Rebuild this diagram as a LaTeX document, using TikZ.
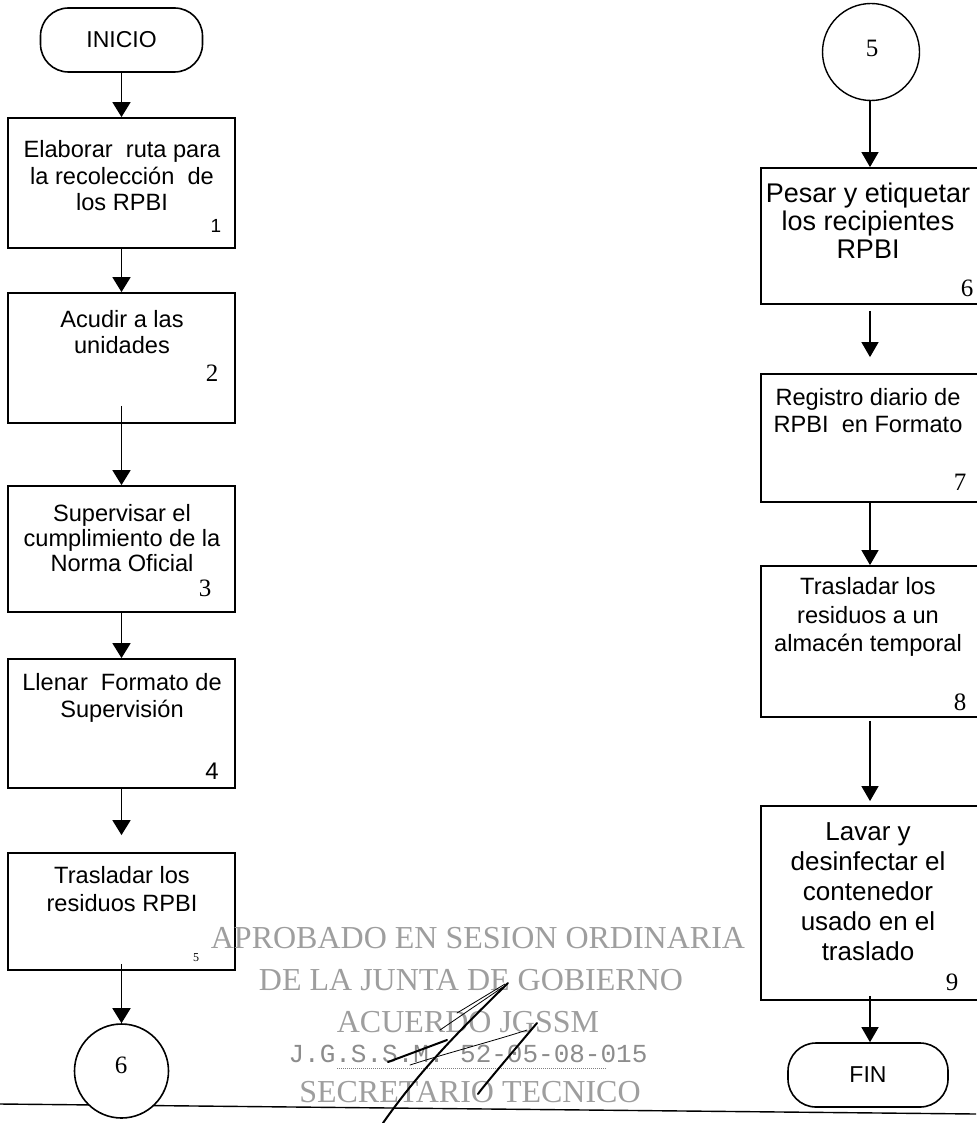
\documentclass[tikz,border=0pt]{standalone}
\usepackage{fontspec}
\setmainfont{Liberation Sans}
\newfontfamily\numfont{Liberation Serif}
\newfontfamily\stampserif{Liberation Serif}
\newfontfamily\stampmono{Liberation Mono}
\usetikzlibrary{arrows.meta}

\begin{document}
\begin{tikzpicture}[x=1pt,y=-1pt,
  box/.style={draw, line width=1.8pt, inner sep=0pt},
  term/.style={draw, line width=1.6pt, rounded corners=28pt, inner sep=0pt,
    font=\fontsize{23}{23}\selectfont},
  conn/.style={draw, circle, line width=1.6pt, inner sep=0pt, fill=white},
  txtL/.style={align=center, inner sep=0pt, font=\fontsize{23.6}{26.5}\selectfont},
  numS/.style={inner sep=0pt, font=\numfont\fontsize{25}{25}\selectfont},
  numSans/.style={inner sep=0pt, font=\fontsize{24}{24}\selectfont},
  arrL/.style={line width=1.8pt, -{Triangle[width=18pt,length=15pt]}},
  arrR/.style={line width=1.3pt, -{Triangle[width=17pt,length=15pt]}},
  stamp/.style={inner sep=0pt, text=black!38, font=\stampserif\fontsize{32}{32}\selectfont},
  stampnum/.style={inner sep=0pt, text=black!45, font=\stampmono\fontsize{26}{26}\selectfont},
  sig/.style={line width=2pt, line cap=round},
  sigthin/.style={line width=0.8pt, line cap=round}
]
\useasboundingbox (0,0) rectangle (976,1123);

% baseline of the page
\coordinate (baseL) at (0,1104);
\coordinate (baseR) at (976,1114);
\draw[line width=1.4pt] (baseL) -- (baseR);

% ---------- left column ----------
\node[term, minimum width=162pt, minimum height=64pt] (start) at (121.5,40) {INICIO};

\node[box, minimum width=227pt, minimum height=130pt] (b1) at (121.5,183) {};
\node[txtL] (t1) at (122,176) {Elaborar~ ruta para\\la recolección~ de\\los RPBI};
\node[numSans, font=\fontsize{19}{19}\selectfont] (n1) at (216,226) {1};

\node[box, minimum width=227pt, minimum height=130pt] (b2) at (121.5,358) {};
\node[txtL] (t2) at (122,332) {Acudir a las\\unidades};
\node[numS] (n2) at (212,373) {2};

\node[box, minimum width=227pt, minimum height=126pt] (b3) at (121.5,549) {};
\node[txtL, font=\fontsize{23.6}{25}\selectfont] (t3) at (122,538) {Supervisar el\\cumplimiento de la\\Norma Oficial};
\node[numS] (n3) at (205,588) {3};

\node[box, minimum width=227pt, minimum height=129pt] (b4) at (121.5,723.5) {};
\node[txtL] (t4) at (122,698) {Llenar~ Formato de\\Supervisión};
\node[numSans] (n4) at (212,771) {4};

\node[box, minimum width=227pt, minimum height=117pt] (b5) at (121.5,911.5) {};
\node[txtL, font=\fontsize{23.6}{28}\selectfont] (t5) at (122,889) {Trasladar los\\residuos RPBI};
\node[numS, font=\numfont\fontsize{12}{12}\selectfont] (n5) at (196,958) {5};

\node[conn, minimum size=94pt] (c6) at (121.5,1071) {};
\node[numS] (c6t) at (121,1065) {6};

\draw[arrL] (start.south) -- (b1.north);
\draw[arrL] (b1.south) -- (b2.north);
\draw[arrL] ([yshift=18pt]b2.south) -- (b3.north);
\draw[arrL] (b3.south) -- (b4.north);
\draw[arrL] (b4.south) -- ([yshift=17pt]b5.north);
\draw[arrL] ([yshift=7pt]b5.south) -- (c6.north);

% ---------- right column ----------
\coordinate (axis) at (870,0);

\node[conn, minimum size=97pt, line width=1.4pt] (c5) at (871,52) {};
\node[numS] (c5t) at (872,48) {5};

\node[box, minimum width=229pt, minimum height=136pt] (b6) at (875.5,236) {};
\node[txtL, font=\fontsize{27}{28}\selectfont] (t6) at (868,221) {Pesar y etiquetar\\los recipientes\\RPBI};
\node[numS] (n6) at (967,288) {6};

\node[box, minimum width=229pt, minimum height=128pt] (b7) at (875.5,438) {};
\node[txtL, font=\fontsize{23.6}{27}\selectfont] (t7) at (868,411) {Registro diario de\\RPBI~ en Formato};
\node[numS] (n7) at (960,482) {7};

\node[box, minimum width=229pt, minimum height=151pt] (b8) at (875.5,641.5) {};
\node[txtL, font=\fontsize{23.6}{28.5}\selectfont] (t8) at (868,617) {Trasladar los\\residuos a un\\almacén temporal};
\node[numS] (n8) at (960,702) {8};

\node[box, minimum width=229pt, minimum height=194pt] (b9) at (875.5,903) {};
\node[txtL, font=\fontsize{26}{30}\selectfont] (t9) at (868,892) {Lavar y\\desinfectar el\\contenedor\\usado en el\\traslado};
\node[numS] (n9) at (952,982) {9};

\node[term, minimum width=160pt, minimum height=64pt] (fin) at (868,1075) {FIN};

\draw[arrR] (c5.south -| axis) -- (b6.north -| axis);
\draw[arrR] ([yshift=-6pt]b6.south -| axis) -- ([yshift=16pt]b7.north -| axis);
\draw[arrR] (b7.south -| axis) -- (b8.north -| axis);
\draw[arrR] ([yshift=-3pt]b8.south -| axis) -- ([yshift=4pt]b9.north -| axis);
\draw[arrR] ([yshift=5pt]b9.south -| axis) -- (fin.north -| axis);

% ---------- approval stamp ----------
\node[stamp, anchor=base] (s1) at (478,948) {APROBADO EN SESION ORDINARIA};
\node[stamp, anchor=base] (s2) at (471,990) {DE LA JUNTA DE GOBIERNO};
\node[stamp, anchor=base] (s3) at (468,1032) {ACUERDO JGSSM};
\node[stampnum, anchor=base] (s4) at (468,1062) {J.G.S.S.M. 52-05-08-015};
\coordinate (mL) at (337,1068);
\coordinate (mR) at (607,1068);
\draw[black!50, line width=0.8pt, dash pattern=on 1pt off 1pt] (mL) -- (mR);
\node[stamp, anchor=base] (s5) at (470,1102) {SECRETARIO TECNICO};

% signature strokes
\draw[sig] (508,983) .. controls (460,1030) and (420,1070) .. (383,1123);
\draw[sigthin] (457,1013) -- (505,984);
\draw[sigthin] (440,1030) -- (503,987);
\draw[sig] (388,1062) -- (447,1040);
\draw[sigthin] (410,1065) .. controls (447,1053) and (497,1040) .. (527,1030);
\draw[sig] (478,1094) .. controls (482,1088) and (510,1055) .. (537,1023);
\end{tikzpicture}
\end{document}
